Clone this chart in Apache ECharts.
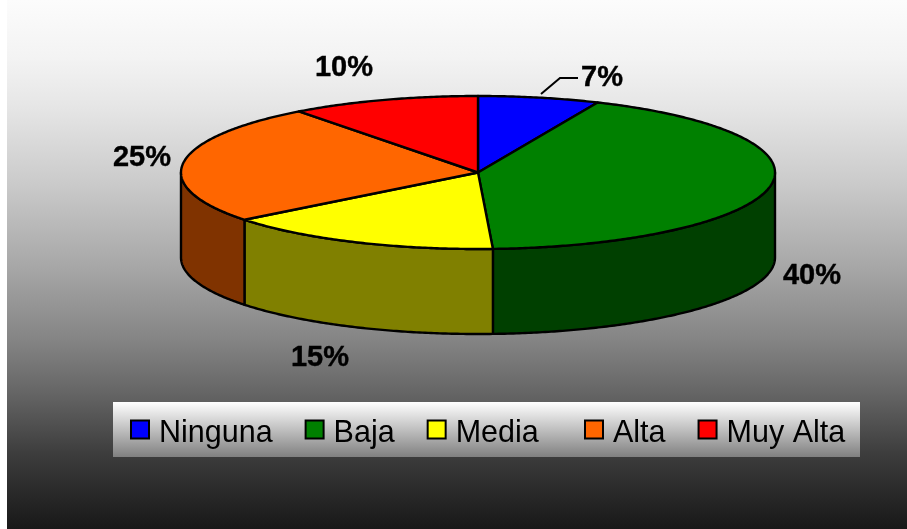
<!DOCTYPE html>
<html>
<head>
<meta charset="utf-8">
<style>html,body{margin:0;padding:0;background:#fff}#c{width:907px;height:529px}</style>
<script src="https://cdn.jsdelivr.net/npm/echarts@6/dist/echarts.min.js"></script>
</head>
<body>
<div id="c"></div>
<script>
// Data
const categories = ['Ninguna', 'Baja', 'Media', 'Alta', 'Muy Alta'];
const sliceShares = [6.6, 42.6, 15.2, 25.3, 10.3];   // drawn share of the circle
const percentLabels = ['7%', '40%', '15%', '25%', '10%']; // printed labels
const topColors = ['#0000ff', '#008000', '#ffff00', '#ff6600', '#ff0000'];
const sideColors = ['#000080', '#004000', '#808000', '#803300', '#800000'];

// Layout
const CX = 478, CY = 172.5, RX = 297, RY = 76.5, DEPTH = 85;
const LABEL_CENTERS = [[602, 78], [812, 276], [320, 358], [142, 158], [344, 68]];

const total = sliceShares.reduce((a, b) => a + b, 0);
function pt(t, dy) { return [CX + RX * Math.sin(t), CY - RY * Math.cos(t) + (dy || 0)]; }
function arc(a0, a1, dy) {
  const n = Math.max(2, Math.ceil(Math.abs(a1 - a0) / 0.01)), out = [];
  for (let i = 0; i <= n; i++) out.push(pt(a0 + (a1 - a0) * i / n, dy));
  return out;
}
const strokeStyle = c => ({ fill: c, stroke: '#000', lineWidth: 2.4, lineJoin: 'round' });

function makeRender(index) {
  return function (params, api) {
    const before = sliceShares.slice(0, index).reduce((a, b) => a + b, 0);
    const a0 = before / total * 2 * Math.PI;
    const a1 = (before + api.value(0)) / total * 2 * Math.PI;
    const children = [];
    const s0 = Math.max(a0, Math.PI / 2), s1 = Math.min(a1, 1.5 * Math.PI);
    if (s1 > s0) {
      const top = arc(s0, s1, 0), bottom = arc(s1, s0, DEPTH);
      children.push({ type: 'polygon', z2: 1, shape: { points: top.concat(bottom) }, style: strokeStyle(sideColors[index]) });
    }
    children.push({ type: 'polygon', z2: 2, shape: { points: [[CX, CY]].concat(arc(a0, a1, 0)) }, style: strokeStyle(api.visual('color')) });
    children.push({
      type: 'text', z2: 5, x: LABEL_CENTERS[index][0], y: LABEL_CENTERS[index][1],
      style: { text: percentLabels[index], fill: '#000', stroke: '#000', lineWidth: 0.4, font: 'bold 29px "Liberation Sans", Arial, sans-serif', align: 'center', verticalAlign: 'middle' }
    });
    return { type: 'group', children };
  };
}

const legendFont = { fontFamily: '"Liberation Sans", Arial, sans-serif', fontSize: 30.5, color: '#000' };
const legendBase = {
  icon: 'rect', itemWidth: 18, itemHeight: 18, itemGap: 32, orient: 'horizontal', padding: 0,
  itemStyle: { borderColor: '#000', borderWidth: 2 }, selectedMode: false,
  formatter: name => '{t|' + name + '}',
  textStyle: Object.assign({}, legendFont, {
    padding: [0, 0, 0, 5],
    rich: { t: Object.assign({}, legendFont, { padding: [8, 0, 0, 0] }) }
  })
};

const chart = echarts.init(document.getElementById('c'), null, { renderer: 'canvas' });
chart.setOption({
  animation: false,
  backgroundColor: '#fff',
  legend: [
    Object.assign({}, legendBase, { left: 130, top: 418, data: categories.slice(0, 3) }),
    Object.assign({}, legendBase, { left: 584, top: 418, data: categories.slice(3) })
  ],
  graphic: [
    { type: 'rect', z: -1, shape: { x: 7, y: 0, width: 900, height: 529 },
      style: { fill: new echarts.graphic.LinearGradient(0, 0, 0, 1, [
        { offset: 0, color: '#fcfcfc' }, { offset: 0.11, color: '#f3f3f3' }, { offset: 0.2, color: '#e6e6e6' },
        { offset: 0.34, color: '#cccccc' }, { offset: 0.5, color: '#a8a8a8' },
        { offset: 0.64, color: '#858585' }, { offset: 0.74, color: '#666666' },
        { offset: 0.86, color: '#3c3c3c' }, { offset: 1, color: '#181818' }]) } },
    { type: 'rect', z: 1, shape: { x: 113, y: 402, width: 747, height: 55 },
      style: { fill: new echarts.graphic.LinearGradient(0, 0, 0, 1, [
        { offset: 0, color: '#ffffff' }, { offset: 1, color: '#808080' }]) } },
    { type: 'polyline', z: 3, shape: { points: [[541, 94], [560, 78], [578, 78]] },
      style: { stroke: '#000', lineWidth: 2, fill: null } }
  ],
  series: categories.map((name, i) => ({
    type: 'custom', name, coordinateSystem: 'none', silent: true,
    itemStyle: { color: topColors[i] },
    data: [[sliceShares[i]]],
    renderItem: makeRender(i)
  }))
});
</script>
</body>
</html>
